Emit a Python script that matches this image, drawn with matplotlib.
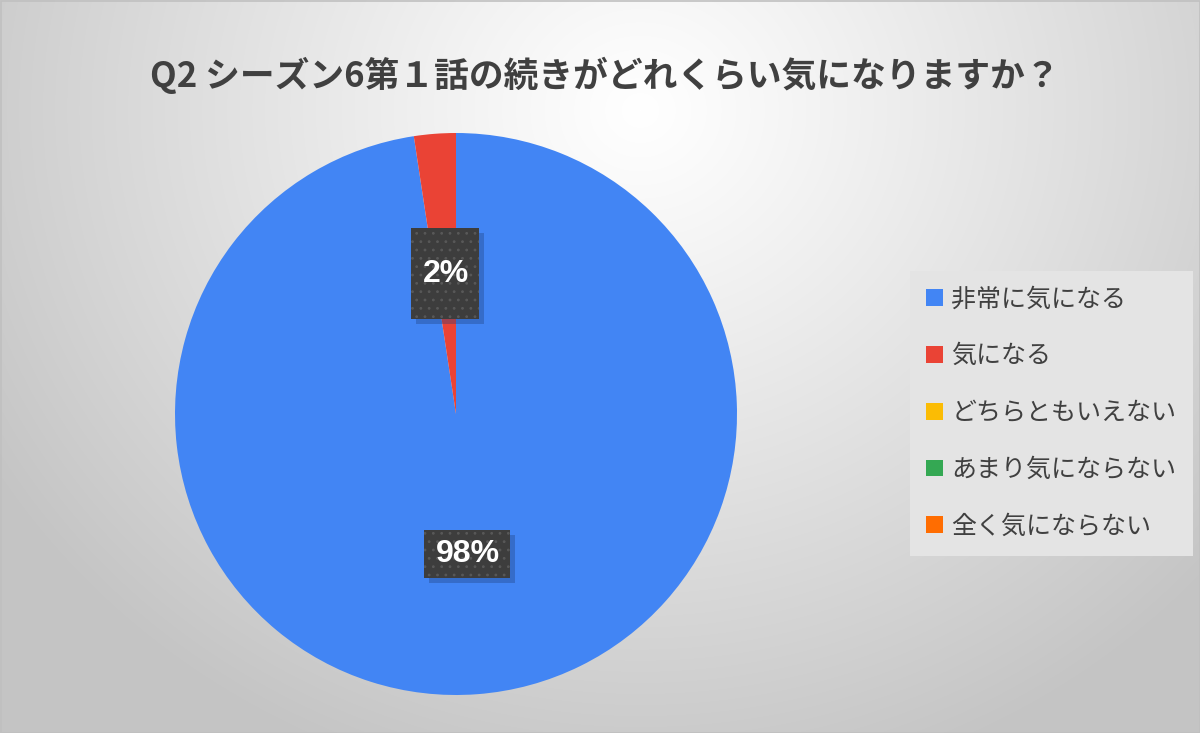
import numpy as np
import matplotlib
matplotlib.use("Agg")
import matplotlib.pyplot as plt
from matplotlib.patches import Rectangle

# ---- data ----
title = "Q2 シーズン6第１話の続きがどれくらい気になりますか？"
categories = ["非常に気になる", "気になる", "どちらともいえない", "あまり気にならない", "全く気にならない"]
values = [97.6, 2.4, 0, 0, 0]

# ---- style ----
colors = ["#4285F4", "#EA4335", "#FBBC04", "#34A853", "#FF6D01"]
box_sizes_px = [(86, 48), (68, 91)]   # label box (w, h) in pixels, per non-zero slice
W, H, DPI = 1200, 733, 100
cx_px, cy_px, r_px = 456, 414, 281

plt.rcParams['font.family'] = ['Noto Sans CJK JP', 'DejaVu Sans']
plt.rcParams['hatch.color'] = '#585858'
plt.rcParams['hatch.linewidth'] = 0.8

fig = plt.figure(figsize=(W / DPI, H / DPI), dpi=DPI)

# background radial gradient
bg = fig.add_axes([0, 0, 1, 1], zorder=-10)
yy, xx = np.mgrid[0:H, 0:W]
rr = np.sqrt(((xx - 640) / 760.0) ** 2 + ((yy - 110) / 700.0) ** 2)
rr = np.clip(rr, 0, 1)
shade = 1.0 - (1.0 - 0.77) * rr ** 1.1
bg.imshow(np.dstack([shade] * 3), extent=[0, W, H, 0], aspect='auto', interpolation='bilinear')
bg.set_xlim(0, W)
bg.set_ylim(H, 0)
bg.axis('off')
bg.add_patch(Rectangle((0.5, 0.5), W - 1, H - 1, fill=False, edgecolor='#c0c0c0', lw=1.2))

# pie axes
ax = fig.add_axes([(cx_px - r_px) / W, (H - cy_px - r_px) / H, 2 * r_px / W, 2 * r_px / H])
wedges, texts, autotexts = ax.pie(
    values, colors=colors, startangle=90, counterclock=False, radius=1,
    autopct=lambda p: f"{p:.0f}%" if p > 0 else "", pctdistance=0.5,
    wedgeprops=dict(linewidth=0),
    textprops=dict(color='white', fontsize=23, fontweight='bold', family=['Liberation Sans']))
ax.set_xlim(-1, 1)
ax.set_ylim(-1, 1)
ax.set_aspect('equal')
ax.axis('off')

# label boxes
k = 0
for t, v in zip(autotexts, values):
    if v <= 0:
        continue
    x, y = t.get_position()
    bw, bh = box_sizes_px[k]
    k += 1
    w, h = bw / r_px, bh / r_px
    dx, dy = 5 / r_px, 5 / r_px
    ax.add_patch(Rectangle((x - w / 2 + dx, y - h / 2 - dy), w, h, facecolor='#1d3f7a',
                           alpha=0.35, lw=0, zorder=3))
    ax.add_patch(Rectangle((x - w / 2, y - h / 2), w, h, facecolor='#3d3d3d',
                           hatch='..', lw=0, zorder=4))
    t.set_zorder(5)
    t.set_position((x + 1 / r_px, y))
    t.set_va('center')

# legend
leg = fig.legend(wedges, categories, loc='center left',
                 bbox_to_anchor=(910 / W, 1 - 413 / H), borderaxespad=0,
                 fontsize=18, frameon=True, fancybox=False, shadow=False,
                 facecolor='#e4e4e4', edgecolor='none', framealpha=1,
                 handlelength=0.66, handleheight=0.66, handletextpad=0.36,
                 labelspacing=1.23, borderpad=0.64, labelcolor='#404040')

fig.text(605 / W, 1 - 75 / H, title, ha='center', va='center', fontsize=25,
         fontweight='bold', color='#404040')

fig.savefig("out.png", dpi=DPI)
